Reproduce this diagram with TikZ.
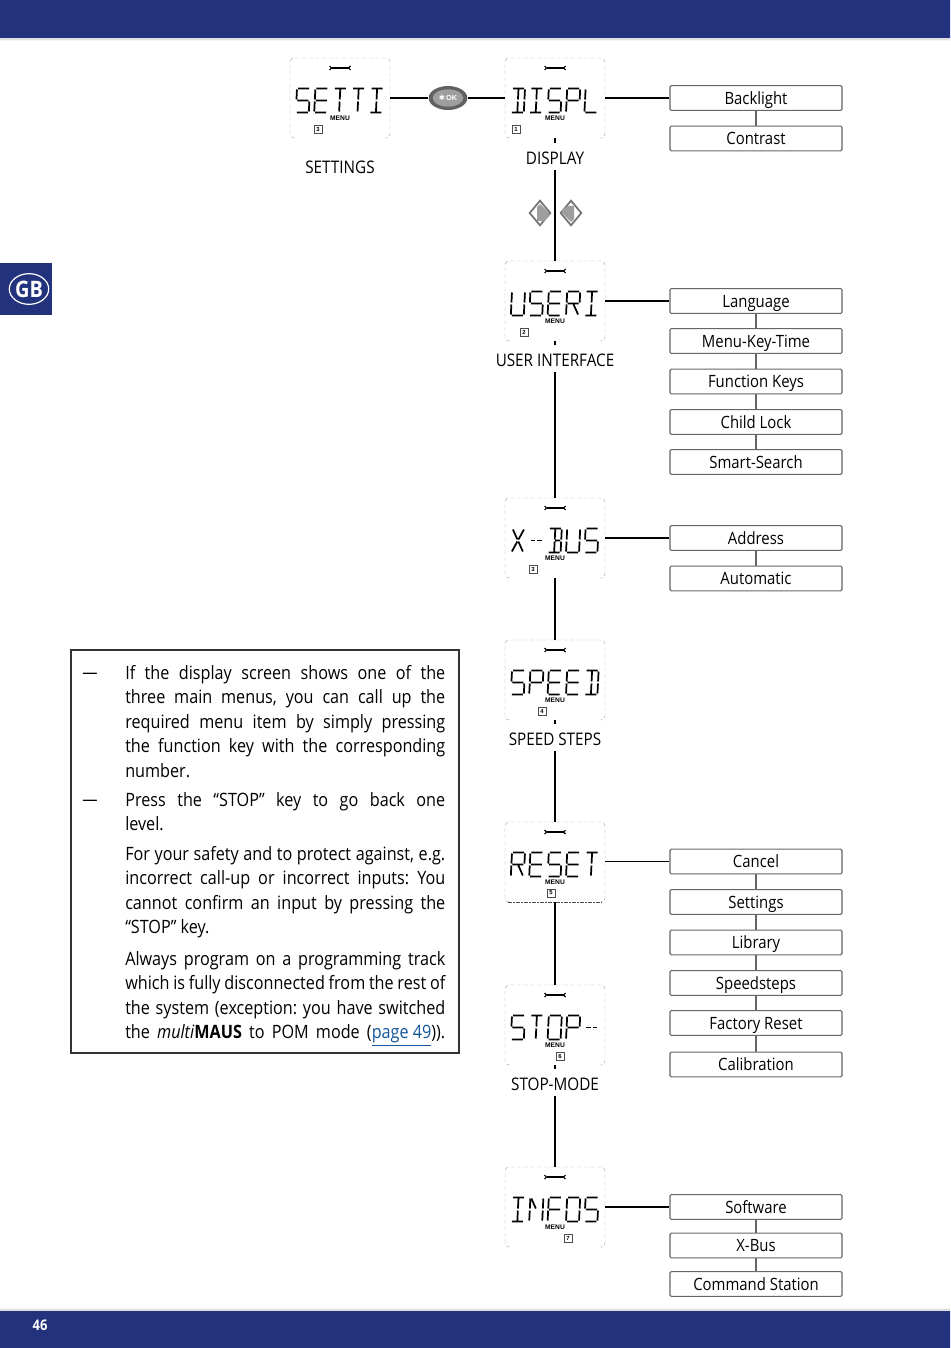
\documentclass[tikz,border=0pt]{standalone}
\usepackage{fontspec}
\setmainfont[FakeStretch=0.88]{Open Sans}
\newfontfamily\menufont{Liberation Sans}
\newfontfamily\symfont{DejaVu Sans}
\definecolor{Band}{RGB}{35, 50, 125}
\definecolor{Pagelink}{RGB}{20, 85, 155}
\usetikzlibrary{positioning, shapes.geometric}
\tikzset{
    lcdseg/.style={line width=1.3pt, xslant=0.05},
    lcdS/.pic={\draw[lcdseg] (1,0)--(12,0) (0,1)--(0,11) (1,12)--(12,12) (13,13)--(13,23) (1,24)--(12,24);},
    lcdE/.pic={\draw[lcdseg] (1,0)--(12,0) (0,1)--(0,11) (1,12)--(12,12) (0,13)--(0,23) (1,24)--(12,24);},
    lcdT/.pic={\draw[lcdseg] (1,0)--(12,0) (6.5,1)--(6.5,11) (6.5,13)--(6.5,23);},
    lcdI/.pic={\draw[lcdseg] (1,0)--(12,0) (6.5,1)--(6.5,11) (6.5,13)--(6.5,23) (1,24)--(12,24);},
    lcdD/.pic={\draw[lcdseg] (1,0)--(12,0) (6.5,1)--(6.5,11) (6.5,13)--(6.5,23) (1,24)--(12,24) (13,1)--(13,11) (13,13)--(13,23);},
    lcdB/.pic={\draw[lcdseg] (1,0)--(12,0) (6.5,1)--(6.5,11) (6.5,13)--(6.5,23) (1,24)--(12,24) (13,1)--(13,11) (13,13)--(13,23) (7,12)--(12,12);},
    lcdP/.pic={\draw[lcdseg] (1,0)--(12,0) (0,1)--(0,11) (13,1)--(13,11) (1,12)--(12,12) (0,13)--(0,23);},
    lcdL/.pic={\draw[lcdseg] (0,1)--(0,11) (0,13)--(0,23) (1,24)--(12,24);},
    lcdU/.pic={\draw[lcdseg] (0,1)--(0,11) (0,13)--(0,23) (1,24)--(12,24) (13,1)--(13,11) (13,13)--(13,23);},
    lcdO/.pic={\draw[lcdseg] (1,0)--(12,0) (0,1)--(0,11) (0,13)--(0,23) (1,24)--(12,24) (13,1)--(13,11) (13,13)--(13,23);},
    lcdR/.pic={\draw[lcdseg] (1,0)--(12,0) (0,1)--(0,11) (13,1)--(13,11) (1,12)--(12,12) (0,13)--(0,23) (7,13)--(12,23);},
    lcdX/.pic={\draw[lcdseg] (1,1)--(6,11) (12,1)--(7,11) (6,13)--(1,23) (7,13)--(12,23);},
    lcdN/.pic={\draw[lcdseg] (0,1)--(0,11) (0,13)--(0,23) (13,1)--(13,11) (13,13)--(13,23) (1,1)--(6,11);},
    lcdF/.pic={\draw[lcdseg] (1,0)--(12,0) (0,1)--(0,11) (1,12)--(12,12) (0,13)--(0,23);},
    lcdM/.pic={\draw[lcdseg] (1,12)--(5.5,12) (7.5,12)--(12,12);},
    wrench/.pic={\draw[line width=1pt] (-8.5,0)--(8.5,0); \draw[line width=0.8pt] (-10.5,-2)--(-8.5,0)--(-10.5,2) (10.5,-2)--(8.5,0)--(10.5,2);},
    lcdbox/.style={minimum width=75pt, minimum height=60pt, inner sep=0pt, outer sep=0pt},
    lcdframe/.style={gray!70, densely dashed, line width=0.35pt, rounded corners=3pt},
    itembox/.style={draw=black!60, line width=0.8pt, rounded corners=1pt, minimum width=129pt, minimum height=18.6pt, inner sep=0pt, text height=10.7pt, text depth=1.3pt, font=\fontsize{12.7}{16}\selectfont},
    itemlink/.style={draw=black!60, line width=0.8pt},
    steplabel/.style={fill=white, minimum height=20pt, inner xsep=2pt, inner ysep=0pt, text height=12.7pt, text depth=1.3pt},
    keybox/.style={diamond, draw=black!55, line width=1.3pt, fill=white, minimum width=16pt, minimum height=19pt, inner sep=0pt},
    para/.style={anchor=north west, text width=240pt, align=justify, inner sep=0pt, font=\fontsize{13.8}{18.4}\selectfont\frenchspacing}
}
\begin{document}
\begin{tikzpicture}[x=0.75pt, y=-0.75pt,
    every node/.style={font=\fontsize{13}{16}\selectfont, align=center}
]
\useasboundingbox (0,0) rectangle (950,1348);
% Page bands
\fill[black!12] (0,38) rectangle (950,40.5) (0,1308.5) rectangle (950,1311);
\fill[Band] (0,0) rectangle (950,38) (0,1311) rectangle (950,1348);
\node[text=white, font=\fontsize{11}{13}\selectfont\bfseries] (pageno) at (40,1325) {46};
\node[fill=Band, minimum width=39pt, minimum height=39pt, inner sep=0pt] (gbtab) at (26,289) {};
\node[ellipse, draw=white, line width=0.9pt, text=white, minimum width=28.5pt, minimum height=23pt, inner sep=0pt, font=\fontsize{17}{18}\selectfont\bfseries] (gbtag) at (29,289) {GB};
% Displays
\foreach \name/\x/\y/\num/\numx/\word in {setti/290/58/3/28/{S,E,T,T,I}, displ/505/58/1/11/{D,I,S,P,L},
    useri/505/261/2/19/{U,S,E,R,I}, xbusd/505/498/3/28/{X,M,B,U,S}, speed/505/640/4/37/{S,P,E,E,D},
    reset/505/822/5/46/{R,E,S,E,T}, stopm/505/985/6/55/{S,T,O,P,M}, infos/505/1167/7/63/{I,N,F,O,S}} {
    \node[lcdbox] (\name) at (\x+50,\y+40) {};
    \draw[lcdframe] (\x+3,\y+80)--(\x,\y+80)--(\x,\y)--(\x+100,\y)--(\x+100,\y+80)--(\x+97,\y+80);
    \pic at (\x+50,\y+10) {wrench};
    \foreach \c [count=\i] in \word {
        \pic at (\x+7+\i*18.4-18.4,\y+30.5) {lcd\c};
    }
    \node[font=\menufont\fontsize{5}{6}\selectfont\bfseries] (menu\name) at (\x+50,\y+60.5) {MENU};
    \node[draw=black!70, line width=0.35pt, minimum size=6pt, inner sep=0pt, font=\menufont\fontsize{4.4}{5}\selectfont\bfseries] (num\name) at (\x+\numx,\y+71) {\num};
}
\draw[black!70, dash pattern=on 1.5pt off 0.5pt, line width=0.5pt] ([xshift=2pt]reset.south west)--([xshift=-2pt]reset.south east);
% Chain of displays
\node[ellipse, fill=black!62, minimum width=29pt, minimum height=18pt, inner sep=0pt] (okkey) at (448,98) {};
\node[ellipse, fill=black!38, text=white, minimum width=23pt, minimum height=13pt, inner sep=0pt, font=\menufont\fontsize{5.5}{6}\selectfont\bfseries] (oklabel) at (448,98) {{\symfont ✱}\,OK};
\draw[line width=0.8pt] (setti.east)--(okkey)--(displ.west);
\foreach \a/\b in {displ/useri, useri/xbusd, xbusd/speed, speed/reset, reset/stopm, stopm/infos} {
    \draw[line width=0.8pt] (\a.south)--(\b.north);
}
% Arrow keys
\node[keybox] (leftkey) at (540,213) {};
\node[keybox] (rightkey) at (571,213) {};
\fill[black!38] (540,204)--(549,213)--(549,216)--(544,221)--(537,221)--(537,207)--cycle;
\fill[black!38] (571,222)--(562,213)--(562,210)--(567,206)--(574,206)--(574,219)--cycle;
% Captions
\node (lblsetti) at (340,167) {SETTINGS};
\foreach \n/\y/\lab in {lbldispl/156.5/DISPLAY, lbluseri/358.5/USER INTERFACE, lblspeed/737.5/SPEED STEPS, lblstopm/1082.5/STOP-MODE} {
    \node[steplabel] (\n) at (555,\y) {\lab};
}
% Menu items
\foreach \n/\y/\lab in {backlight/98/Backlight, contrast/138.5/Contrast,
    language/301/Language, menukey/341/Menu-Key-Time, fkeys/381.5/Function Keys, childlock/422/Child Lock, smartsearch/462/Smart-Search,
    address/538/Address, automatic/578.5/Automatic,
    cancel/861.5/Cancel, settings/902/Settings, library/942.5/Library, speedsteps/983/Speedsteps, factory/1023/Factory Reset, calibration/1064.5/Calibration,
    software/1207/Software, xbusitem/1245.5/X-Bus, cmdstation/1284/Command Station} {
    \node[itembox] (\n) at (756,\y) {\lab};
}
\foreach \a/\b in {backlight/contrast, language/menukey, menukey/fkeys, fkeys/childlock, childlock/smartsearch, address/automatic,
    cancel/settings, settings/library, library/speedsteps, speedsteps/factory, factory/calibration, software/xbusitem, xbusitem/cmdstation} {
    \draw[itemlink] (\a)--(\b);
}
\foreach \a/\b in {displ/backlight, useri/language, xbusd/address, reset/cancel, infos/software} {
    \draw[line width=0.8pt] (\a.east |- \b.west)--(\b.west);
}
% Note
\node[draw=black!80, line width=0.9pt, minimum width=291pt, minimum height=302.25pt, inner sep=0pt] (notebox) at (265,851.5) {};
\node[font=\fontsize{13}{16}\selectfont] (dash1) at (90,676) {---};
\node[font=\fontsize{13}{16}\selectfont] (dash2) at (90,803) {---};
\node[para] (para1) at (125,665) {If the display screen shows one of the\linebreak three main menus, you can call up the\linebreak required menu item by simply pressing\linebreak the function key with the corresponding\linebreak number.};
\node[para] (para2) at (125,792) {Press the “STOP” key to go back one\linebreak level.};
\node[para] (para3) at (125,846) {For your safety and to protect against, e.g.\linebreak incorrect call-up or incorrect inputs: You\linebreak cannot confirm an input by pressing the\linebreak “STOP” key.};
\node[para] (para4) at (125,951) {Always program on a programming track\linebreak which is fully disconnected from the rest of\linebreak the system (exception: you have switched\linebreak the \textit{multi}\textbf{MAUS} to POM mode ({\color{Pagelink}\underline{page 49}})).\parfillskip=0pt\par};
\end{tikzpicture}
\end{document}
